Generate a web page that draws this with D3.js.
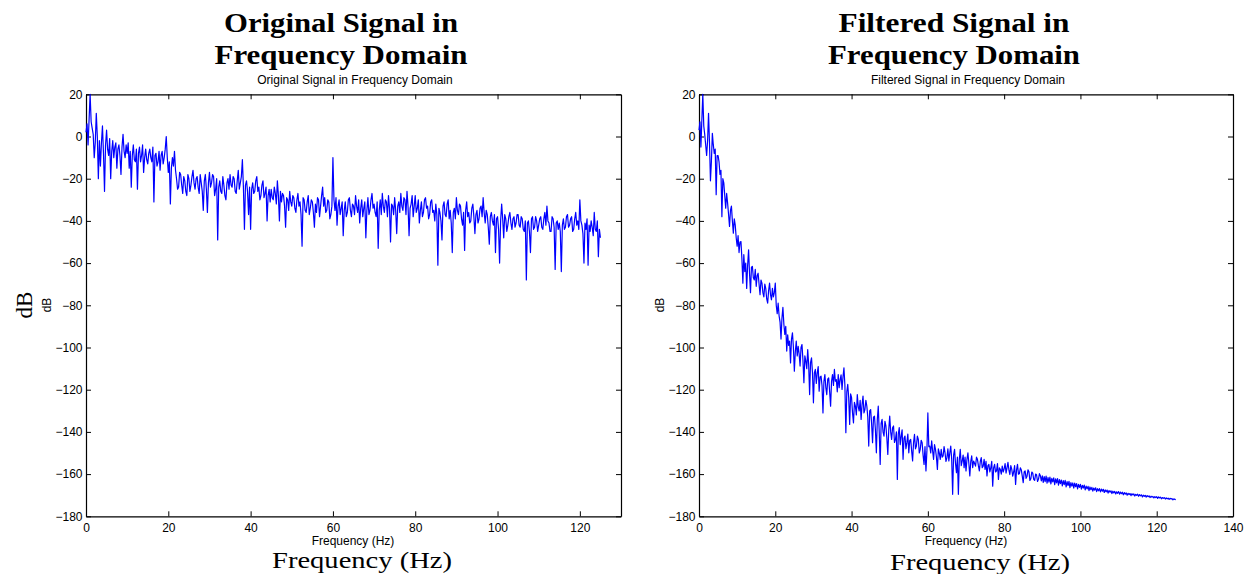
<!DOCTYPE html>
<html>
<head>
<meta charset="utf-8">
<script src="https://cdn.jsdelivr.net/npm/d3@7"></script>
<style>
  body { margin: 0; background: #fff; }
  svg { display: block; }
</style>
</head>
<body>
<svg id="chart" width="1244" height="574"></svg>
<script>
// Spectrum samples, one every FREQ_STEP Hz from 0 Hz to 125 Hz (magnitude in dB).
const FREQ_STEP = 0.25;

const originalDb = [
  2, 6, -4, 8, 20, 7, 4, 1, -10, -3, 11, 0, -20, -2, -14, -3, 5, -8, -26, -4,
  3, -6, -9, -1, -20, -7, -2, -10, -5, -3, -15, -6, -4, -9, -18, -5, 1, -7, -10, -4,
  -8, -3, -15, -7, -24, -9, -4, -11, -12, -6, -25, -8, -5, -12, -9, -4, -17, -10, -6, -11,
  -13, -8, -6, -10, -12, -5, -31, -9, -8, -14, -12, -7, -16, -9, -7, -13, -10, -6, 0, -10,
  -17, -12, -32, -15, -10, -14, -7, -16, -20, -25, -24, -17, -18, -23, -27, -19, -21, -26, -28, -18,
  -20, -26, -23, -19, -16, -22, -25, -20, -19, -24, -27, -18, -22, -26, -35, -21, -18, -25, -36, -22,
  -17, -24, -22, -18, -19, -28, -25, -20, -49, -24, -21, -26, -27, -19, -23, -28, -30, -22, -20, -25,
  -18, -23, -24, -19, -20, -26, -27, -21, -16, -25, -22, -19, -11, -24, -44, -23, -21, -26, -37, -24,
  -44, -25, -22, -27, -26, -21, -19, -26, -24, -30, -28, -23, -21, -29, -27, -24, -40, -28, -25, -31,
  -25, -29, -30, -24, -27, -32, -21, -28, -40, -26, -31, -27, -28, -33, -43, -29, -30, -35, -26, -31,
  -33, -28, -29, -34, -36, -30, -27, -33, -31, -37, -52, -29, -30, -35, -36, -31, -28, -37, -34, -30,
  -31, -36, -43, -32, -36, -29, -30, -38, -33, -28, -24, -33, -29, -36, -35, -30, -31, -39, -37, -33,
  -10, -30, -35, -29, -42, -33, -30, -37, -34, -31, -47, -35, -31, -38, -36, -30, -29, -35, -38, -32,
  -33, -37, -28, -33, -36, -30, -41, -34, -30, -38, -34, -31, -48, -35, -29, -37, -35, -30, -27, -34,
  -32, -36, -38, -31, -53, -35, -30, -37, -27, -33, -36, -30, -31, -38, -28, -34, -50, -32, -33, -37,
  -29, -35, -46, -33, -31, -36, -27, -33, -35, -29, -30, -37, -26, -33, -47, -34, -32, -28, -38, -33,
  -28, -36, -34, -30, -41, -35, -31, -38, -36, -30, -29, -34, -33, -39, -37, -31, -30, -36, -35, -40,
  -32, -37, -61, -34, -36, -40, -49, -33, -31, -37, -38, -32, -30, -39, -35, -41, -55, -36, -34, -39,
  -29, -35, -37, -32, -33, -39, -42, -36, -54, -35, -31, -38, -36, -41, -40, -34, -32, -38, -46, -37,
  -35, -41, -39, -34, -33, -38, -29, -36, -41, -35, -37, -43, -51, -38, -36, -40, -42, -37, -55, -39,
  -38, -44, -60, -40, -32, -39, -48, -37, -39, -45, -42, -38, -36, -41, -44, -39, -38, -43, -41, -37,
  -37, -42, -43, -38, -39, -44, -45, -40, -68, -41, -40, -45, -55, -39, -38, -44, -43, -38, -40, -45,
  -42, -39, -38, -43, -44, -39, -36, -42, -33, -40, -41, -45, -45, -38, -39, -43, -63, -41, -40, -44,
  -41, -45, -64, -42, -39, -44, -43, -38, -37, -43, -42, -39, -38, -45, -44, -39, -36, -42, -40, -44,
  -30, -40, -42, -46, -60, -41, -44, -39, -61, -42, -45, -40, -43, -47, -36, -44, -45, -40, -57, -44,
  -48
];

const filteredDb = [
  3, 7, -5, 8, 20, 5, 1, -4, -9, -2, 11, -3, -21, -12, 1.5, -4, -8, -6, -27.6, -9,
  -9, -12, -18, -16, -38, -20, -22, -28, -34, -27, -31.6, -37, -42.6, -35, -33, -40, -45.8, -39, -42, -48,
  -52, -47, -55, -50, -49.8, -58, -69.5, -56, -64, -60, -72, -61, -53.7, -65, -74, -62, -61.6, -67, -68, -63,
  -71, -66, -64.8, -70, -75, -68, -69.5, -74, -76, -70, -72, -77, -79, -73, -69.5, -75, -77.4, -72, -76, -74,
  -69.5, -80, -84, -79, -85, -88, -96, -86, -81, -89, -93.8, -90, -101.7, -94, -99, -97, -107.3, -96, -93, -100,
  -111.2, -102, -97, -104, -99.4, -103, -108.8, -100, -98.6, -106, -116.7, -104, -106.5, -110, -101, -108, -122.3, -107, -104.9, -112,
  -126.2, -112, -110.4, -117, -112, -109, -120.7, -114, -113.6, -118, -131, -116, -112.8, -119, -122.3, -115, -114.4, -121, -127.8, -116,
  -112.8, -118, -110.4, -116, -115.2, -121, -112.8, -119, -115.2, -113, -119.9, -114, -109.6, -118, -140.4, -121, -117.5, -124, -136.5, -122,
  -123.8, -131, -135.7, -126, -127.8, -132, -122.3, -128, -130.1, -125, -134.1, -127, -123, -131, -129.4, -125, -127.8, -133, -146.7, -130,
  -129.4, -136, -145.1, -133, -132.5, -139, -149.9, -134, -127.8, -140, -155.4, -136, -134.1, -140, -142, -135, -137.2, -143, -150.7, -139,
  -132.5, -140, -143.6, -138, -137.2, -145, -143.6, -140, -162.5, -141, -138, -146, -142, -139, -153, -143, -142, -148, -145.1, -141,
  -149.9, -144, -143.6, -149, -153.8, -145, -141.2, -148, -146.7, -142, -143.6, -150, -148.3, -144, -145.1, -151, -155.4, -147, -158.5, -149,
  -131, -147, -146.7, -150, -144.3, -149, -153, -146, -148.3, -152, -157.8, -148, -149.9, -153, -148.3, -152, -151.4, -147, -149.9, -154,
  -152.2, -148, -153.8, -150, -146.7, -153, -169.6, -151, -148.3, -155, -159.3, -152, -169.6, -153, -148.3, -156, -153.8, -151, -157, -152,
  -158.5, -153, -149.9, -155, -160.9, -154, -151.4, -157, -153.8, -155, -156.2, -152, -153, -156, -158.5, -154, -152.2, -157, -156.2, -153,
  -157.8, -154, -160.9, -156, -155.4, -159, -157, -154, -165.7, -157, -155.4, -159, -158.5, -155, -162.5, -157, -157.8, -160, -156.2, -159,
  -157.5, -155, -159.5, -157, -154.4, -158, -160.2, -156, -157.8, -161, -159, -156, -164.9, -158, -155.4, -160, -159.8, -157, -158, -161,
  -164.1, -159, -158.5, -162, -161, -158, -158.9, -163, -162.2, -159, -159.5, -162.5, -163, -160, -160.3, -163.5, -162.5, -159.8, -160.8, -163.2,
  -160.8, -163.9, -161.2, -163.6, -160.9, -164.3, -161.6, -163.8, -161.4, -164.6, -162, -163.7, -161.8, -165, -162.2, -164.2, -162.1, -165.2, -162.6, -164.5,
  -162.8, -165.6, -163.1, -165, -163, -166.1, -163.6, -165.4, -163.4, -166.4, -164, -165.7, -164.2, -166.6, -164.3, -166, -164.5, -167, -164.9, -166.3,
  -164.9, -167.1, -165.3, -166.6, -165.2, -167.5, -165.7, -167, -165.8, -167.8, -166.1, -167.4, -166.3, -168.1, -166.6, -167.6, -166.5, -168.3, -166.9, -167.9,
  -166.9, -168.4, -167.1, -168.1, -167.2, -168.7, -167.5, -168.4, -167.6, -169, -167.8, -168.6, -167.9, -169.2, -168.1, -168.9, -168.2, -169.4, -168.4, -169.1,
  -168.3, -169.5, -168.5, -169.3, -168.6, -169.8, -168.8, -169.5, -168.9, -170, -169.1, -169.7, -169.2, -170.2, -169.3, -169.9, -169.4, -170.4, -169.6, -170.1,
  -169.5, -170.5, -169.7, -170.3, -169.8, -170.8, -170, -170.5, -170.1, -170.9, -170.2, -170.7, -170.3, -171.1, -170.5, -170.9, -170.6, -171.3, -170.7, -171.1,
  -170.7, -171.5, -170.8, -171.3, -170.9, -171.7, -171.1, -171.5, -171.2, -171.8, -171.3, -171.7, -171.4, -172, -171.5, -171.8, -171.6, -172.2, -171.7, -172,
  -172.1
];

const dbTicks = [-180, -160, -140, -120, -100, -80, -60, -40, -20, 0, 20];
const originalFreqTicks = [0, 20, 40, 60, 80, 100, 120];
const filteredFreqTicks = [0, 20, 40, 60, 80, 100, 120, 140];

const panels = [
  {
    values: originalDb,
    freqMax: 130,
    freqTicks: originalFreqTicks,
    left: 86, right: 621,
    titleLines: ["Original Signal in", "Frequency Domain"],
    titleCx: 341,
    titleWidths: [234, 253],
    smallTitle: "Original Signal in Frequency Domain",
    smallTitleCx: 355,
    smallXLabelCx: 353,
    bigXLabelCx: 362,
    bigXLabelY: 568,
    smallYLabelX: 51,
    bigYLabel: true
  },
  {
    values: filteredDb,
    freqMax: 140,
    freqTicks: filteredFreqTicks,
    left: 699, right: 1233,
    titleLines: ["Filtered Signal in", "Frequency Domain"],
    titleCx: 954,
    titleWidths: [231, 252],
    smallTitle: "Filtered Signal in Frequency Domain",
    smallTitleCx: 968,
    smallXLabelCx: 966,
    bigXLabelCx: 980,
    bigXLabelY: 570,
    smallYLabelX: 664,
    bigYLabel: false
  }
];

const TOP = 94.3, BOTTOM = 516.3;
const svg = d3.select("#chart");
const sans = "'Liberation Sans', Arial, Helvetica, sans-serif";
const serif = "'Liberation Serif', 'Times New Roman', serif";

panels.forEach(p => {
  const x = d3.scaleLinear().domain([0, p.freqMax]).range([p.left, p.right]);
  const y = d3.scaleLinear().domain([-180, 20]).range([BOTTOM, TOP]);
  const g = svg.append("g");

  // Axes on all four sides, ticks pointing inward
  const styleAxis = sel => {
    sel.select(".domain").attr("stroke", "#000").attr("stroke-width", 1.2).attr("fill", "none");
    sel.selectAll(".tick line").attr("stroke", "#000").attr("stroke-width", 1);
    sel.selectAll(".tick text").attr("fill", "#000")
      .style("font-family", sans).style("font-size", "12px");
  };

  g.append("g").attr("transform", `translate(0,${BOTTOM})`)
    .call(d3.axisBottom(x).tickValues(p.freqTicks).tickSizeInner(-5).tickSizeOuter(0).tickPadding(7))
    .call(styleAxis);
  g.append("g").attr("transform", `translate(0,${TOP})`)
    .call(d3.axisTop(x).tickValues(p.freqTicks).tickSizeInner(-5).tickSizeOuter(0).tickFormat(""))
    .call(styleAxis);
  g.append("g").attr("transform", `translate(${p.left},0)`)
    .call(d3.axisLeft(y).tickValues(dbTicks).tickSizeInner(-5).tickSizeOuter(0).tickPadding(3.5))
    .call(styleAxis);
  g.append("g").attr("transform", `translate(${p.right},0)`)
    .call(d3.axisRight(y).tickValues(dbTicks).tickSizeInner(-5).tickSizeOuter(0).tickFormat(""))
    .call(styleAxis);

  // Spectrum trace
  const line = d3.line()
    .x((d, i) => x(i * FREQ_STEP))
    .y(d => y(d));
  g.append("path")
    .datum(p.values)
    .attr("d", line)
    .attr("fill", "none")
    .attr("stroke", "#0000ff")
    .attr("stroke-width", 1.2)
    .attr("stroke-linejoin", "round");

  // Large serif title (two lines)
  p.titleLines.forEach((t, i) => {
    g.append("text")
      .attr("x", p.titleCx).attr("y", 32 + i * 32)
      .attr("text-anchor", "middle")
      .attr("textLength", p.titleWidths[i])
      .attr("lengthAdjust", "spacingAndGlyphs")
      .style("font-family", serif).style("font-weight", "bold").style("font-size", "28px")
      .text(t);
  });

  // Small axes title
  g.append("text")
    .attr("x", p.smallTitleCx).attr("y", 84)
    .attr("text-anchor", "middle")
    .style("font-family", sans).style("font-size", "12px")
    .text(p.smallTitle);

  // Small x label
  g.append("text")
    .attr("x", p.smallXLabelCx).attr("y", 545)
    .attr("text-anchor", "middle")
    .style("font-family", sans).style("font-size", "12px")
    .text("Frequency (Hz)");

  // Large serif x label
  g.append("text")
    .attr("x", p.bigXLabelCx).attr("y", p.bigXLabelY)
    .attr("text-anchor", "middle")
    .attr("textLength", 180)
    .attr("lengthAdjust", "spacingAndGlyphs")
    .style("font-family", serif).style("font-size", "23px")
    .text("Frequency (Hz)");

  // Small y label
  g.append("text")
    .attr("transform", `translate(${p.smallYLabelX},305) rotate(-90)`)
    .attr("text-anchor", "middle")
    .style("font-family", sans).style("font-size", "12px")
    .text("dB");

  if (p.bigYLabel) {
    g.append("text")
      .attr("transform", "translate(32,305) rotate(-90)")
      .attr("text-anchor", "middle")
      .style("font-family", serif).style("font-size", "23px")
      .text("dB");
  }
});
</script>
</body>
</html>
